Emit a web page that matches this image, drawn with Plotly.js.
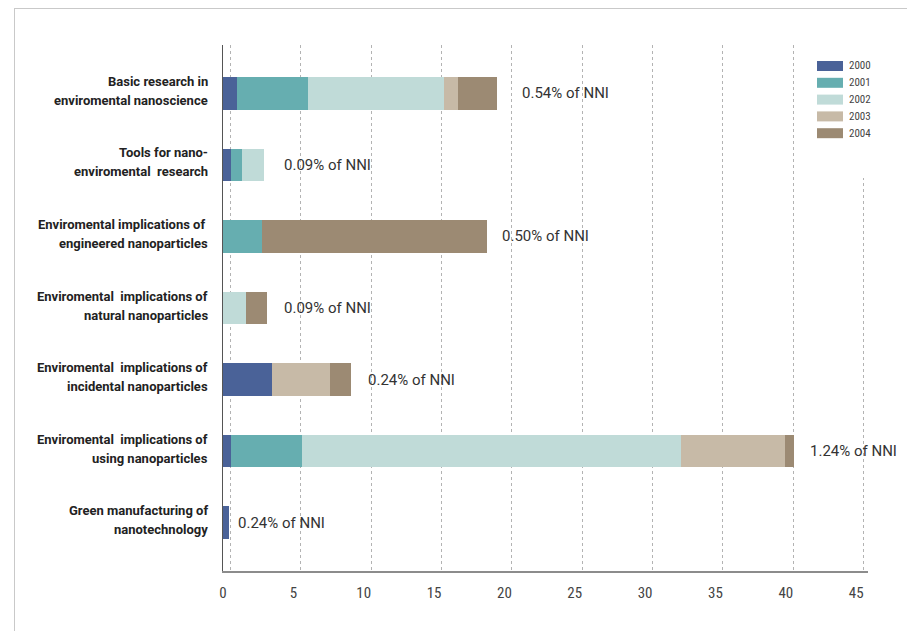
<!DOCTYPE html>
<html>
<head>
<meta charset="utf-8">
<script src="https://cdn.plot.ly/plotly-3.0.1.min.js"></script>
<style>
  html, body { margin: 0; padding: 0; background: #ffffff; }
  #frame { position: absolute; left: 14px; top: 8px; width: 893px; height: 623px;
           border-top: 1px solid #c9c9c9; border-left: 1px solid #c9c9c9; }
  #chart { position: absolute; left: 0; top: 0; width: 907px; height: 631px; }
</style>
</head>
<body>
<div id="frame"></div>
<div id="chart"></div>
<script>
// ---- data ----
const categories = ["cat1", "cat2", "cat3", "cat4", "cat5", "cat6", "cat7"];
const labelLine1 = ["Basic research in", "Tools for nano-", "Enviromental implications of ",
  "Enviromental  implications of", "Enviromental  implications of",
  "Enviromental  implications of", "Green manufacturing of"];
const labelLine2 = ["enviromental nanoscience", "enviromental  research", "engineered nanoparticles",
  "natural nanoparticles", "incidental nanoparticles", "using nanoparticles", "nanotechnology"];
const years = ["2000", "2001", "2002", "2003", "2004"];
const v2000 = [0.96, 0.58, 0, 0, 3.45, 0.58, 0.46];
const v2001 = [5.05, 0.80, 2.76, 0, 0, 5.00, 0];
const v2002 = [9.67, 1.56, 0, 1.60, 0, 26.96, 0];
const v2003 = [1.00, 0, 0, 0, 4.13, 7.40, 0];
const v2004 = [2.77, 0, 15.98, 1.54, 1.54, 0.64, 0];
const nniLabels = ["0.54% of NNI", "0.09% of NNI", "0.50% of NNI", "0.09% of NNI",
  "0.24% of NNI", "1.24% of NNI", "0.24% of NNI"];
const xTicks = [0, 5, 10, 15, 20, 25, 30, 35, 40, 45];

// ---- style ----
const colors = ["#4a6298", "#66aeb0", "#c0dbd8", "#c7baa7", "#9c8a73"];
const labelGap = [23, 18, 13, 15, 15, 14, 7];
const M = {l: 223, r: 39, t: 45, b: 60};
const W = 907, H = 631;
const PW = W - M.l - M.r, PH = H - M.t - M.b;
const xp = px => (px - M.l) / PW;
const yp = py => (H - M.b - py) / PH;
const numFont = "'Roboto Condensed', 'DejaVu Sans Condensed', 'Liberation Sans Narrow', Roboto, sans-serif";

const series = [v2000, v2001, v2002, v2003, v2004];
const traces = series.map((vals, i) => ({
  type: 'bar', orientation: 'h', name: years[i],
  y: categories, x: vals, width: 0.46,
  marker: {color: colors[i], line: {width: 0}},
  showlegend: false, hoverinfo: 'x+name'
}));
traces.push({type: 'scatter', x: [], y: [], xaxis: 'x2', showlegend: false, hoverinfo: 'skip'});

const totals = categories.map((c, j) => series.reduce((s, arr) => s + arr[j], 0));

const annotations = [];
categories.forEach((c, j) => {
  annotations.push({xref: 'x', yref: 'y', x: totals[j], y: c, text: nniLabels[j],
    xanchor: 'left', yanchor: 'middle', xshift: labelGap[j], showarrow: false,
    font: {family: "Roboto, sans-serif", size: 15, color: '#333333'}});
  annotations.push({xref: 'paper', yref: 'y', x: 0, y: c, text: labelLine1[j],
    xanchor: 'right', yanchor: 'middle', xshift: -13, yshift: 12, showarrow: false,
    font: {family: "Roboto, sans-serif", size: 13, color: '#222222', weight: 'bold'}});
  annotations.push({xref: 'paper', yref: 'y', x: 0, y: c, text: labelLine2[j],
    xanchor: 'right', yanchor: 'middle', xshift: -13, yshift: -7, showarrow: false,
    font: {family: "Roboto, sans-serif", size: 13, color: '#222222', weight: 'bold'}});
});

const shapes = [{type: 'rect', xref: 'paper', yref: 'paper', layer: 'above',
  x0: xp(805), x1: xp(884), y0: yp(178), y1: 1, fillcolor: '#ffffff', line: {width: 0}}];
years.forEach((yr, i) => {
  const cy = 66 + 16.8 * i;
  shapes.push({type: 'rect', xref: 'paper', yref: 'paper', layer: 'above',
    x0: xp(817), x1: xp(843), y0: yp(cy + 5), y1: yp(cy - 5),
    fillcolor: colors[i], line: {width: 0}});
  annotations.push({xref: 'paper', yref: 'paper', x: xp(847), y: yp(cy), text: yr,
    xanchor: 'left', yanchor: 'middle', showarrow: false,
    font: {family: numFont, size: 11, color: '#444444'}});
});

const layout = {
  width: W, height: H,
  margin: M,
  paper_bgcolor: 'rgba(0,0,0,0)', plot_bgcolor: 'rgba(0,0,0,0)',
  barmode: 'stack',
  showlegend: false,
  xaxis: {range: [0, 45.84], tickmode: 'array', tickvals: xTicks, ticktext: xTicks.map(String),
    showgrid: false, zeroline: false, showline: true, linecolor: '#8c8c8c', linewidth: 2,
    ticks: '', ticklabelstandoff: 7,
    tickfont: {family: numFont, size: 15, color: '#444444'}},
  xaxis2: {overlaying: 'x', matches: 'x', anchor: 'y', tickmode: 'linear', tick0: 0.53, dtick: 5,
    showticklabels: false, showgrid: true, gridcolor: '#b3b3b3', gridwidth: 1,
    griddash: '3px,3px', zeroline: false, showline: false, ticks: ''},
  yaxis: {type: 'category', categoryorder: 'array', categoryarray: categories,
    range: [6.678, -0.678], showticklabels: false, showgrid: false, zeroline: false,
    showline: true, linecolor: '#555555', linewidth: 1.5, ticks: ''},
  annotations: annotations,
  shapes: shapes
};

Plotly.newPlot('chart', traces, layout, {displayModeBar: false, staticPlot: true});
</script>
</body>
</html>
